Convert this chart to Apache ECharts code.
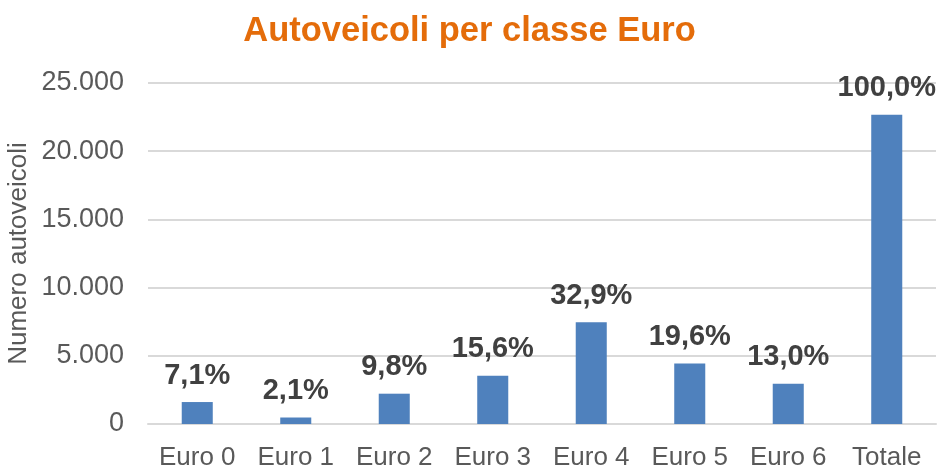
<!DOCTYPE html>
<html>
<head>
<meta charset="utf-8">
<title>Autoveicoli per classe Euro</title>
<script src="https://cdn.jsdelivr.net/npm/echarts@6/dist/echarts.min.js"></script>
<style>
  html, body { margin: 0; padding: 0; background: #fff; }
  #chart { width: 939px; height: 468px; }
</style>
</head>
<body>
<div id="chart"></div>
<script>
// dati
const categories = ['Euro 0', 'Euro 1', 'Euro 2', 'Euro 3', 'Euro 4', 'Euro 5', 'Euro 6', 'Totale'];
const vehicles = [1610, 476, 2222, 3537, 7460, 4444, 2948, 22674];
const shares = ['7,1%', '2,1%', '9,8%', '15,6%', '32,9%', '19,6%', '13,0%', '100,0%'];
const yTicks = [0, 5000, 10000, 15000, 20000, 25000];

const font = '"Liberation Sans", Arial, sans-serif';

const chart = echarts.init(document.getElementById('chart'));

chart.setOption({
  animation: false,
  title: {
    text: 'Autoveicoli per classe Euro',
    left: 'center',
    top: 14,
    padding: 0,
    textStyle: {
      color: '#E46C0A',
      fontFamily: font,
      fontWeight: 'bold',
      fontSize: 34.5
    }
  },
  grid: {
    left: 148,
    right: 3,
    top: 83,
    bottom: 44,
    outerBoundsMode: 'none'
  },
  xAxis: {
    type: 'category',
    data: categories,
    axisLine: { lineStyle: { color: '#D9D9D9', width: 2 } },
    axisTick: { show: false },
    axisLabel: {
      color: '#595959',
      fontFamily: font,
      fontSize: 26,
      margin: 21,
      interval: 0
    }
  },
  yAxis: {
    type: 'value',
    min: yTicks[0],
    max: yTicks[yTicks.length - 1],
    interval: 5000,
    name: 'Numero autoveicoli',
    nameLocation: 'middle',
    nameGap: 116,
    nameMoveOverlap: false,
    nameTextStyle: {
      color: '#595959',
      fontFamily: font,
      fontSize: 26
    },
    axisLine: { show: false },
    axisTick: { show: false },
    splitLine: { lineStyle: { color: '#D9D9D9', width: 2 } },
    axisLabel: {
      color: '#595959',
      fontFamily: font,
      fontSize: 27,
      margin: 24,
      formatter: v => v.toLocaleString('it-IT').replace(/\s/g, '.')
    }
  },
  series: [
    {
      type: 'bar',
      data: vehicles,
      barWidth: '31.5%',
      itemStyle: { color: '#4F81BD' },
      label: {
        show: true,
        position: 'top',
        distance: 12,
        color: '#404040',
        fontFamily: font,
        fontWeight: 'bold',
        fontSize: 29,
        formatter: p => shares[p.dataIndex]
      }
    }
  ]
});
</script>
</body>
</html>
